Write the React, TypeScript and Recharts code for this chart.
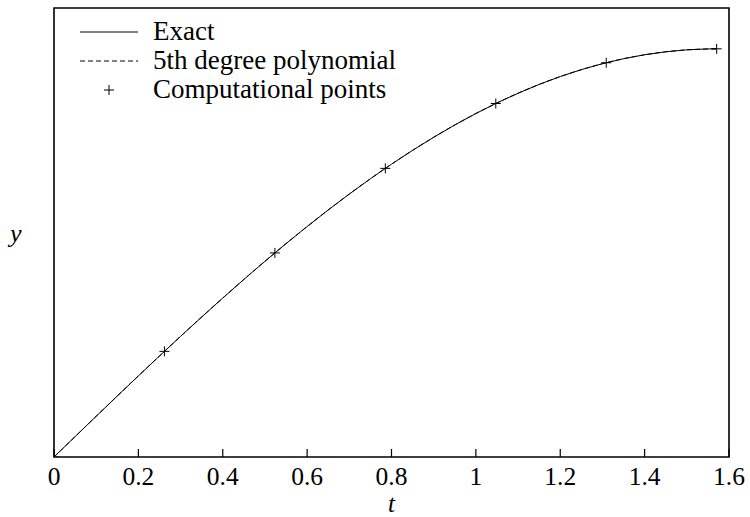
import {
  ComposedChart,
  Line,
  Scatter,
  XAxis,
  YAxis,
  ReferenceArea,
} from "recharts";

const xTicks = [0, 0.2, 0.4, 0.6, 0.8, 1, 1.2, 1.4, 1.6];

const exactT = [
  0, 0.05, 0.1, 0.15, 0.2, 0.25, 0.3, 0.35, 0.4, 0.45, 0.5, 0.55, 0.6, 0.65,
  0.7, 0.75, 0.8, 0.85, 0.9, 0.95, 1.0, 1.05, 1.1, 1.15, 1.2, 1.25, 1.3, 1.35,
  1.4, 1.45, 1.5, 1.55, 1.5708,
];
const exactY = [
  0, 0.04998, 0.09983, 0.14944, 0.19867, 0.2474, 0.29552, 0.3429, 0.38942,
  0.43497, 0.47943, 0.52269, 0.56464, 0.60519, 0.64422, 0.68164, 0.71736,
  0.75128, 0.78333, 0.81342, 0.84147, 0.86742, 0.89121, 0.91276, 0.93204,
  0.94898, 0.96356, 0.97572, 0.98545, 0.99271, 0.99749, 0.99978, 1,
];

const polyT = [
  0, 0.1, 0.2, 0.3, 0.4, 0.5, 0.6, 0.7, 0.8, 0.9, 1.0, 1.1, 1.2, 1.3, 1.4, 1.5,
  1.5708,
];
const polyY = [
  0, 0.0998, 0.1987, 0.2955, 0.3894, 0.4794, 0.5646, 0.6442, 0.7174, 0.7833,
  0.8415, 0.8912, 0.932, 0.9636, 0.9854, 0.9975, 1,
];

const pointT = [0, 0.2618, 0.5236, 0.7854, 1.0472, 1.309, 1.5708];
const pointY = [0, 0.2588, 0.5, 0.7071, 0.866, 0.9659, 1];

const legendLabels = ["Exact", "5th degree polynomial", "Computational points"];

const exactData = exactT.map((t, i) => ({ t, y: exactY[i] }));
const polyData = polyT.map((t, i) => ({ t, y: polyY[i] }));
const pointData = pointT.map((t, i) => ({ t, y: pointY[i] }));

const FONT = "Liberation Serif, Times New Roman, serif";

const BottomTick = (props: any) => {
  const { x, y, payload } = props;
  return (
    <g>
      <line x1={x} y1={y} x2={x} y2={y - 8} stroke="#000" strokeWidth={1.2} />
      <text
        x={x}
        y={y + 28}
        textAnchor="middle"
        fontSize={25.5}
        fontFamily={FONT}
        fill="#000"
      >
        {payload.value}
      </text>
    </g>
  );
};

const TopTick = (props: any) => {
  const { x, y } = props;
  return <line x1={x} y1={y} x2={x} y2={y + 8} stroke="#000" strokeWidth={1.2} />;
};

const Plus = (props: any) => {
  const { cx, cy } = props;
  return (
    <g stroke="#000" strokeWidth={1}>
      <line x1={cx - 5} y1={cy} x2={cx + 5} y2={cy} />
      <line x1={cx} y1={cy - 5} x2={cx} y2={cy + 5} />
    </g>
  );
};

const LegendBox = () => {
  const kinds = ["solid", "dash", "plus"];
  return (
    <div
      style={{
        position: "absolute",
        left: 80,
        top: 17,
        fontFamily: FONT,
        fontSize: 27,
        color: "#000",
        lineHeight: 1,
      }}
    >
      {legendLabels.map((label, i) => (
        <div
          key={label}
          style={{ display: "flex", alignItems: "center", height: 29 }}
        >
          <svg width={58} height={12} style={{ marginRight: 15 }}>
            {kinds[i] === "solid" && (
              <line x1={0} y1={6} x2={58} y2={6} stroke="#000" strokeWidth={1} />
            )}
            {kinds[i] === "dash" && (
              <line
                x1={0}
                y1={6}
                x2={58}
                y2={6}
                stroke="#000"
                strokeWidth={1}
                strokeDasharray="5 3"
              />
            )}
            {kinds[i] === "plus" && (
              <g stroke="#000" strokeWidth={1}>
                <line x1={24} y1={6} x2={34} y2={6} />
                <line x1={29} y1={1} x2={29} y2={11} />
              </g>
            )}
          </svg>
          <span>{label}</span>
        </div>
      ))}
    </div>
  );
};

export default function App() {
  return (
    <div
      style={{
        position: "absolute",
        left: 0,
        top: 0,
        width: 750,
        height: 517,
        background: "#fff",
        fontFamily: FONT,
      }}
    >
      <ComposedChart
        width={750}
        height={517}
        margin={{ top: 8, right: 21, left: 0, bottom: 0 }}
      >
        <XAxis
          dataKey="t"
          type="number"
          domain={[0, 1.6]}
          ticks={xTicks}
          height={60}
          tickSize={0}
          tickMargin={0}
          axisLine={false}
          tick={<BottomTick />}
          interval={0}
          allowDataOverflow
          label={{
            value: "t",
            position: "insideBottom",
            offset: 5,
            fontSize: 25,
            fontStyle: "italic",
            fill: "#000",
            fontFamily: FONT,
          }}
        />
        <XAxis
          xAxisId="top"
          orientation="top"
          dataKey="t"
          type="number"
          domain={[0, 1.6]}
          ticks={xTicks}
          height={0}
          tickSize={0}
          axisLine={false}
          tick={<TopTick />}
          interval={0}
        />
        <YAxis
          dataKey="y"
          type="number"
          domain={[0, 1.1]}
          width={54}
          tick={false}
          tickLine={false}
          axisLine={false}
          allowDataOverflow
          label={{
            value: "y",
            position: "insideLeft",
            offset: 10,
            fontSize: 26,
            fontStyle: "italic",
            fill: "#000",
            fontFamily: FONT,
          }}
        />
        <ReferenceArea
          x1={0}
          x2={1.6}
          y1={0}
          y2={1.1}
          fill="none"
          stroke="#000"
          strokeWidth={1.6}
          ifOverflow="visible"
        />
        <Line
          data={exactData}
          dataKey="y"
          type="linear"
          stroke="#000"
          strokeWidth={1}
          dot={false}
          isAnimationActive={false}
        />
        <Line
          data={polyData}
          dataKey="y"
          type="monotone"
          stroke="#000"
          strokeWidth={1}
          strokeDasharray="5 3"
          dot={false}
          isAnimationActive={false}
        />
        <Scatter
          data={pointData}
          dataKey="y"
          shape={<Plus />}
          isAnimationActive={false}
        />
      </ComposedChart>
      <LegendBox />
    </div>
  );
}
